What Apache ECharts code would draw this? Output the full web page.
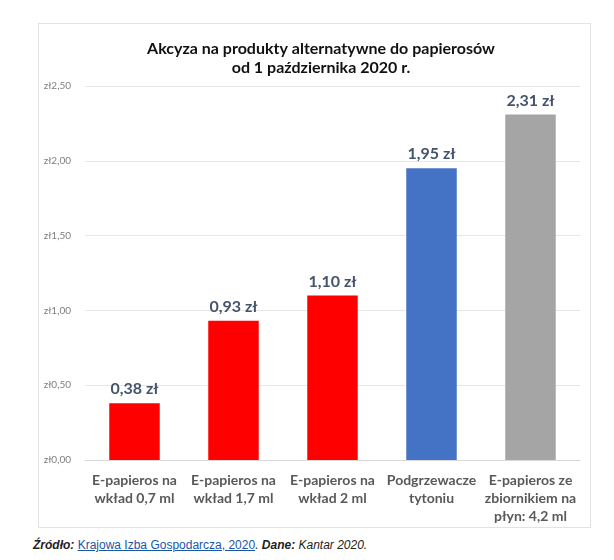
<!DOCTYPE html>
<html>
<head>
<meta charset="utf-8">
<script src="https://cdn.jsdelivr.net/npm/echarts@6/dist/echarts.min.js"></script>
<style>
  body { margin: 0; background: #fff; width: 614px; height: 560px; position: relative; overflow: hidden; }
  #box { position: absolute; left: 38px; top: 23px; width: 553px; height: 505px; border: 1px solid #e3e3e3; box-sizing: border-box; }
  #chart { position: absolute; left: 0; top: 0; width: 614px; height: 530px; }
  #source { position: absolute; left: 33px; top: 538px; font-family: "Liberation Sans", Arial, sans-serif; font-size: 12px; font-style: italic; color: #222; }
  #source a { color: #1a55a8; text-decoration: underline; font-style: normal; }
</style>
</head>
<body>
<div id="box"></div>
<div id="chart"></div>
<div id="source"><b>Źródło:</b> <a href="#">Krajowa Izba Gospodarcza, 2020</a>. <b>Dane:</b> Kantar 2020.</div>
<script>
const categories = [
  "E-papieros na\nwkład 0,7 ml",
  "E-papieros na\nwkład 1,7 ml",
  "E-papieros na\nwkład 2 ml",
  "Podgrzewacze\ntytoniu",
  "E-papieros ze\nzbiornikiem na\npłyn: 4,2 ml"
];
const excise = [0.38, 0.93, 1.10, 1.95, 2.31];
const barColors = ["#ff0000", "#ff0000", "#ff0000", "#4472c4", "#a5a5a5"];

function pln(v) {
  return v.toFixed(2).replace(".", ",");
}

document.addEventListener("DOMContentLoaded", function () {
  const chart = echarts.init(document.getElementById("chart"));
  chart.setOption({
    animation: false,
    title: {
      text: "Akcyza na produkty alternatywne do papierosów\nod 1 października 2020 r.",
      left: 316,
      top: 34,
      textAlign: "center",
      textStyle: {
        fontFamily: "Lato",
        fontWeight: "bold",
        fontSize: 16,
        lineHeight: 19,
        color: "#111"
      }
    },
    grid: { left: 85, right: 34, top: 86, bottom: 70 },
    xAxis: {
      type: "category",
      data: categories,
      axisLine: { show: true, lineStyle: { color: "#d9d9d9" } },
      axisTick: { show: false },
      axisLabel: {
        interval: 0,
        margin: 11,
        fontFamily: "Lato",
        fontWeight: "bold",
        fontSize: 14,
        lineHeight: 18,
        color: "#595959"
      }
    },
    yAxis: {
      type: "value",
      min: 0,
      max: 2.5,
      interval: 0.5,
      axisLine: { show: false },
      axisTick: { show: false },
      splitLine: { lineStyle: { color: "#e6e6e6" } },
      axisLabel: {
        margin: 14,
        fontFamily: "Lato",
        fontSize: 10,
        color: "#7f7f7f",
        formatter: (v) => "zł" + pln(v)
      }
    },
    series: [
      {
        type: "bar",
        barWidth: "51%",
        data: excise.map((v, i) => ({ value: v, itemStyle: { color: barColors[i] } })),
        label: {
          show: true,
          position: "top",
          distance: 6,
          fontFamily: "Lato",
          fontWeight: "bold",
          fontSize: 16,
          color: "#44546a",
          formatter: (p) => pln(p.value) + " zł"
        }
      }
    ]
  });
});
</script>
</body>
</html>
